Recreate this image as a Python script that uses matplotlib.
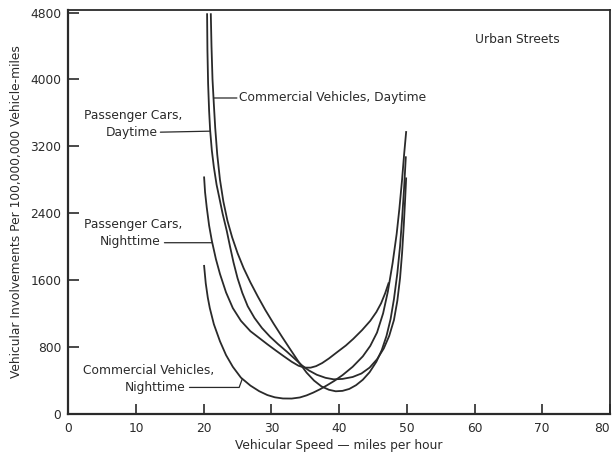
import matplotlib.pyplot as plt
import numpy as np

# Urban streets: involvement rate against speed, four groups
speed_pc_day = [20.5, 20.55, 20.65, 20.8, 20.95, 21.2, 21.5, 21.9, 22.3, 22.8, 23.4, 23.9,
                24.4, 25.0, 25.7, 26.5, 27.5, 28.6, 29.8, 31.0, 32.3, 33.5, 34.5, 35.5,
                36.7, 38.0, 39.2, 40.5, 42.0, 43.3, 44.5, 45.6, 46.6, 47.4, 48.1, 48.6,
                49.0, 49.3, 49.55, 49.75, 49.9]
inv_pc_day = [4780, 4350, 3950, 3620, 3392, 3150, 2950, 2740, 2586, 2390, 2189, 1995,
              1810, 1620, 1445, 1285, 1145, 1025, 920, 830, 740, 652, 578, 518,
              465, 428, 410, 415, 438, 480, 550, 650, 780, 930, 1120, 1350,
              1620, 1920, 2250, 2560, 2815]

speed_cv_day = [21.05, 21.15, 21.3, 21.5, 21.7, 22.0, 22.4, 22.9, 23.5, 24.2, 25.0, 25.9,
                26.9, 28.0, 29.1, 30.3, 31.6, 32.9, 34.1, 35.2, 36.3, 37.4, 38.5, 39.5,
                40.5, 41.5, 42.5, 43.5, 44.5, 45.5, 46.3, 47.0, 47.6, 48.1, 48.6, 49.0,
                49.3, 49.6, 49.85]
inv_cv_day = [4780, 4400, 4000, 3700, 3420, 3100, 2800, 2540, 2310, 2110, 1920, 1740,
              1570, 1400, 1240, 1080, 915, 755, 610, 490, 395, 325, 285, 267,
              272, 295, 340, 405, 495, 620, 760, 930, 1130, 1370, 1680, 2000,
              2330, 2700, 3068]

speed_pc_night = [20.06, 20.2, 20.45, 20.8, 21.2, 21.8, 22.4, 23.3, 24.3, 25.5, 26.9, 28.2,
                  29.4, 30.6, 31.8, 33.0, 34.0, 34.9, 35.8, 36.6, 37.5, 38.5, 39.7, 41.0,
                  42.1, 43.4, 44.6, 45.5, 46.2, 46.8, 47.3]
inv_pc_night = [2827, 2650, 2466, 2250, 2069, 1850, 1672, 1450, 1263, 1110, 986, 905,
                830, 758, 688, 620, 573, 550, 550, 568, 605, 660, 735, 815,
                895, 1000, 1110, 1215, 1320, 1440, 1560]

speed_cv_night = [20.06, 20.3, 20.6, 20.9, 21.5, 22.4, 23.3, 24.3, 25.5, 26.9, 28.2, 29.4,
                  30.5, 31.7, 33.0, 34.2, 35.2, 36.2, 37.2, 38.2, 39.3, 40.5, 42.0, 43.5,
                  44.6, 45.6, 46.5, 47.2, 47.9, 48.5, 48.9, 49.3, 49.6, 49.9]
inv_cv_night = [1768, 1560, 1390, 1263, 1070, 866, 700, 560, 430, 335, 268, 222,
                195, 181, 180, 193, 218, 252, 292, 338, 392, 460, 560, 685,
                810, 970, 1200, 1460, 1800, 2150, 2450, 2800, 3100, 3370]

ink = '#2a2a2a'
fs = 8.8


def x_on_left_branch(xs, ys, level):
    # speed where the falling part of a curve passes a given rate
    k = int(np.argmin(ys))
    return np.interp(level, np.array(ys[:k + 1])[::-1], np.array(xs[:k + 1])[::-1])


fig = plt.figure(figsize=(6.12, 4.55), dpi=100)
ax = fig.add_axes([0.1116, 0.091, 0.885, 0.887])

for xs, ys in [(speed_pc_day, inv_pc_day), (speed_cv_day, inv_cv_day),
               (speed_pc_night, inv_pc_night), (speed_cv_night, inv_cv_night)]:
    ax.plot(xs, ys, color=ink, lw=1.3, solid_joinstyle='round')

ax.set_xlim(0, 80)
ax.set_ylim(0, 4830)
ax.set_xticks(np.arange(0, 81, 10))
ax.set_yticks(np.arange(0, 4801, 800))
ax.tick_params(axis='x', direction='in', length=7, width=1.2, pad=6,
               labelsize=fs, colors=ink)
ax.tick_params(axis='y', direction='in', length=8, width=1.2, pad=5,
               labelsize=fs, colors=ink)
ax.get_xticklabels()[-1].set_ha('right')
for side in ['left', 'bottom']:
    ax.spines[side].set_linewidth(1.6)
for side in ['top', 'right']:
    ax.spines[side].set_linewidth(1.3)
for sp in ax.spines.values():
    sp.set_color(ink)

ax.set_xlabel('Vehicular Speed \u2014 miles per hour', fontsize=fs, color=ink, labelpad=3)
ax.set_ylabel('Vehicular Involvements Per 100,000,000 Vehicle-miles', fontsize=fs,
              color=ink, labelpad=5)

txt = dict(fontsize=fs, color=ink, va='center')
lead = dict(arrowstyle='-', lw=0.9, color=ink, shrinkA=0, shrinkB=0)

ax.text(60.0, 4475, 'Urban Streets', ha='left', **txt)

# commercial vehicles, daytime
y = 3777
ax.text(25.2, y, 'Commercial Vehicles, Daytime', ha='left', **txt)
ax.annotate('', xy=(x_on_left_branch(speed_cv_day, inv_cv_day, y), y),
            xytext=(24.9, y), arrowprops=lead)

# passenger cars, daytime
ax.text(9.6, 3573, 'Passenger Cars,', ha='center', **txt)
ax.text(13.2, 3368, 'Daytime', ha='right', **txt)
ax.annotate('', xy=(x_on_left_branch(speed_pc_day, inv_pc_day, 3380), 3380),
            xytext=(13.6, 3368), arrowprops=lead)

# passenger cars, nighttime
ax.text(9.6, 2262, 'Passenger Cars,', ha='center', **txt)
ax.text(13.6, 2057, 'Nighttime', ha='right', **txt)
ax.annotate('', xy=(x_on_left_branch(speed_pc_night, inv_pc_night, 2045), 2045),
            xytext=(14.2, 2045), arrowprops=lead)

# commercial vehicles, nighttime
ax.text(11.9, 517, 'Commercial Vehicles,', ha='center', **txt)
ax.text(17.25, 313, 'Nighttime', ha='right', **txt)
tip_x = 25.7
tip_y = np.interp(tip_x, speed_cv_night[:15], inv_cv_night[:15])
ax.annotate('', xy=(tip_x, tip_y), xytext=(17.9, 313),
            arrowprops=dict(lead, connectionstyle='angle,angleA=0,angleB=70,rad=0'))

fig.savefig('out.png', dpi=100)
